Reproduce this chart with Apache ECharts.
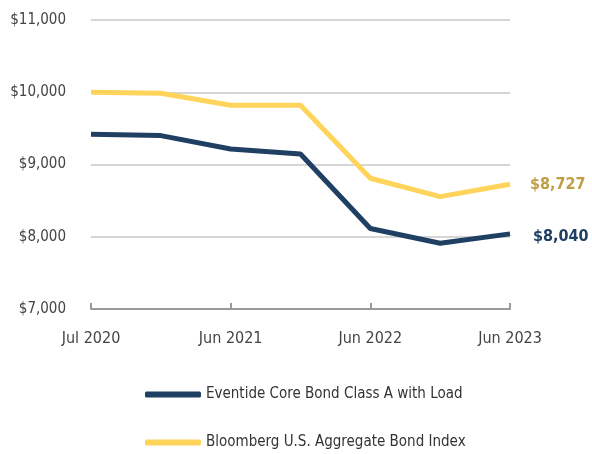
<!DOCTYPE html>
<html>
<head>
<meta charset="utf-8">
<script src="https://cdn.jsdelivr.net/npm/echarts@6/dist/echarts.min.js"></script>
<style>
  html, body { margin: 0; padding: 0; background: #fff; }
  #chart { width: 592px; height: 454px; }
</style>
</head>
<body>
<div id="chart"></div>
<script>
const dates = ['Jul 2020', 'Dec 2020', 'Jun 2021', 'Dec 2021', 'Jun 2022', 'Dec 2022', 'Jun 2023'];
const fundName = 'Eventide Core Bond Class A with Load';
const indexName = 'Bloomberg U.S. Aggregate Bond Index';
const fundValues = [9420, 9400, 9215, 9145, 8115, 7910, 8040];
const indexValues = [10000, 9985, 9820, 9820, 8810, 8555, 8727];

const FONT = '"DejaVu Sans Condensed", "Liberation Sans Narrow", sans-serif';
const money = v => '$' + v.toLocaleString('en-US');

const legendBase = {
  orient: 'vertical',
  left: 140,
  itemWidth: 56,
  itemHeight: 6,
  itemGap: 6,
  icon: 'roundRect',
  textStyle: { fontFamily: FONT, fontSize: 15, color: '#333' }
};

const chart = echarts.init(document.getElementById('chart'));
chart.setOption({
  animation: false,
  textStyle: { fontFamily: FONT },
  grid: { left: 91, right: 82, top: 20, bottom: 145, containLabel: false },
  legend: [
    Object.assign({}, legendBase, { top: 382, data: [fundName] }),
    Object.assign({}, legendBase, { top: 430, data: [indexName] })
  ],
  xAxis: {
    type: 'category',
    data: dates,
    boundaryGap: false,
    axisLine: { lineStyle: { color: '#999', width: 2 } },
    axisTick: { inside: true, length: 6, interval: 1, lineStyle: { color: '#999', width: 2 } },
    axisLabel: { interval: 1, margin: 22, fontSize: 16, color: '#444', fontFamily: FONT }
  },
  yAxis: {
    type: 'value',
    min: 7000,
    max: 11000,
    interval: 1000,
    axisLine: { show: false },
    axisTick: { show: false },
    axisLabel: { formatter: money, margin: 25, fontSize: 15, color: '#444', fontFamily: FONT },
    splitLine: { lineStyle: { color: '#c8c8c8', width: 1.5 } }
  },
  series: [
    {
      name: fundName,
      type: 'line',
      data: fundValues,
      symbol: 'none',
      z: 3,
      lineStyle: { color: '#1f3f63', width: 5 },
      itemStyle: { color: '#1f3f63' },
      endLabel: {
        show: true,
        distance: 23,
        offset: [0, 3],
        formatter: p => money(p.value),
        color: '#1f3f63',
        fontWeight: 'bold',
        fontSize: 16,
        fontFamily: FONT
      }
    },
    {
      name: indexName,
      type: 'line',
      data: indexValues,
      symbol: 'none',
      z: 2,
      lineStyle: { color: '#fed45a', width: 5 },
      itemStyle: { color: '#fed45a' },
      endLabel: {
        show: true,
        distance: 20,
        offset: [0, 1],
        formatter: p => money(p.value),
        color: '#bf9e45',
        fontWeight: 'bold',
        fontSize: 16,
        fontFamily: FONT
      }
    }
  ]
});
</script>
</body>
</html>
